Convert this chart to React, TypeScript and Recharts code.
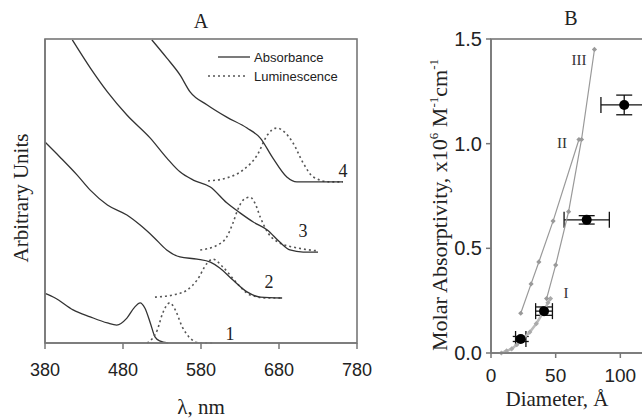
import React from 'react';
import { ComposedChart, Line, Scatter, ErrorBar, XAxis, YAxis } from 'recharts';

// Panel A - spectra (wavelength in nm, arbitrary units)
const wavelengthTicks = [380, 480, 580, 680, 780];

const abs1Nm = [380, 393, 416, 438, 460, 472, 485, 495, 502, 508, 515, 521, 527, 538];
const abs1Val = [16.3, 14.8, 10.9, 8.6, 6.6, 5.9, 8.2, 11.8, 13.2, 11.5, 6.6, 2.0, 0.7, 0];
const lum1Nm = [511, 524, 531, 540, 547, 556, 566, 579, 595];
const lum1Val = [0, 4.3, 9.9, 13.2, 10.9, 5.3, 1.6, 0, 0];

const abs2Nm = [380, 399, 421, 438, 460, 485, 502, 519, 536, 553, 575, 592, 604, 621, 639, 656, 684];
const abs2Val = [66.1, 61.2, 55.3, 50.3, 45.4, 42.1, 38.8, 34.9, 30.6, 28.3, 27.6, 26.6, 24.7, 20.7, 16.8, 15.1, 14.8];
const lum2Nm = [521, 544, 562, 575, 588, 595, 608, 626, 643, 665, 684];
const lum2Val = [15.1, 15.8, 17.4, 20.7, 26.3, 27.6, 25.0, 19.7, 15.8, 14.8, 14.8];

const abs3Nm = [415, 438, 460, 485, 515, 536, 553, 570, 592, 613, 630, 647, 665, 681, 694, 711, 730];
const abs3Val = [99.7, 90.5, 82.6, 75.0, 67.4, 60.9, 56.3, 53.6, 51.3, 46.1, 42.8, 39.8, 37.2, 33.2, 30.6, 29.9, 29.9];
const lum3Nm = [579, 601, 613, 621, 627, 634, 643, 649, 656, 666, 681, 703, 730];
const lum3Val = [30.6, 32.2, 34.9, 39.5, 43.8, 47.0, 48.0, 46.1, 41.4, 36.2, 32.9, 31.3, 30.3];

const abs4Nm = [517, 536, 553, 566, 588, 613, 639, 656, 672, 690, 703, 762];
const abs4Val = [99.7, 93.8, 88.2, 82.6, 78.3, 74.3, 70.7, 67.4, 60.9, 54.6, 53.0, 53.0];
const lum4Nm = [589, 613, 634, 652, 665, 677, 698, 711, 724, 745, 762];
const lum4Val = [53.3, 54.3, 56.9, 61.8, 68.4, 70.7, 65.8, 59.2, 54.6, 53.0, 53.0];

// Panel B - molar absorptivity vs diameter
const diameterTicks = [0, 50, 100];
const absorptivityTicks = [0, 0.5, 1.0, 1.5];

const curveIDiam = [8, 12, 16, 20, 25, 30, 35, 40, 44, 46];
const curveIVal = [0, 0.01, 0.02, 0.04, 0.07, 0.1, 0.14, 0.19, 0.24, 0.26];
const curveIIDiam = [23, 31, 37, 48, 68];
const curveIIVal = [0.19, 0.33, 0.435, 0.63, 1.02];
const curveIIIDiam = [43, 50, 60, 70, 80];
const curveIIIVal = [0.26, 0.42, 0.675, 1.02, 1.45];

const expDiam = [23, 41, 74, 103];
const expVal = [0.067, 0.2, 0.636, 1.185];
const expDiamErr = [4, 6.5, 17.5, 18];
const expValErr = [0.012, 0.02, 0.02, 0.047];

const zip = (xs: number[], ys: number[]) => xs.map((x, i) => ({ x, y: ys[i] }));

const sans = 'Liberation Sans, Arial, sans-serif';
const serif = 'Liberation Serif, Times New Roman, serif';
const axisGray = '#777';

const solid = { stroke: '#333', strokeWidth: 1.3 };
const dotted = { stroke: '#555', strokeWidth: 1.6, strokeDasharray: '2 3' };

const Diamond = (p: any) => (
  <path d={`M${p.cx},${p.cy - 2.6}L${p.cx + 2.6},${p.cy}L${p.cx},${p.cy + 2.6}L${p.cx - 2.6},${p.cy}Z`} fill={p.color} />
);

const BigDot = (p: any) => <circle cx={p.cx} cy={p.cy} r={5} fill="#000" />;

const yLabelA = (props: any) => {
  const vb = props.viewBox;
  const x = vb.x + 28;
  const y = vb.y + vb.height / 2 + 7;
  return (
    <text x={x} y={y} transform={`rotate(-90 ${x} ${y})`} textAnchor="middle" fontFamily={serif} fontSize={21} fill="#222">
      Arbitrary Units
    </text>
  );
};

const yLabelB = (props: any) => {
  const vb = props.viewBox;
  const x = vb.x + 27;
  const y = vb.y + vb.height / 2 + 9;
  return (
    <text x={x} y={y} transform={`rotate(-90 ${x} ${y})`} textAnchor="middle" fontFamily={serif} fontSize={22} fill="#222">
      Molar Absorptivity, x10<tspan dy={-9} fontSize={13}>6</tspan>
      <tspan dy={9}> M</tspan>
      <tspan dy={-9} fontSize={13}>-1</tspan>
      <tspan dy={9}>cm</tspan>
      <tspan dy={-9} fontSize={13}>-1</tspan>
    </text>
  );
};

function App() {
  return (
    <div style={{ position: 'absolute', left: 0, top: 0, width: 642, height: 420, overflow: 'hidden', background: '#fff' }}>
      <div style={{ position: 'absolute', left: 0, top: 0 }}>
        <ComposedChart width={380} height={420} margin={{ top: 39, right: 23, bottom: 0, left: 0 }}>
          <XAxis
            type="number"
            dataKey="x"
            domain={[380, 780]}
            ticks={wavelengthTicks}
            height={77}
            tickSize={6}
            tickMargin={14}
            stroke={axisGray}
            strokeWidth={1.5}
            tick={{ fill: '#222', fontSize: 18, fontFamily: sans }}
            label={{ value: 'λ, nm', position: 'insideBottom', offset: 6, fontFamily: serif, fontSize: 21, fill: '#222' }}
          />
          <YAxis
            type="number"
            dataKey="y"
            domain={[0, 100]}
            width={45}
            tick={false}
            tickLine={false}
            stroke={axisGray}
            strokeWidth={1.5}
            label={{ content: yLabelA }}
          />
          <Line data={zip(abs1Nm, abs1Val)} dataKey="y" type="monotone" dot={false} {...solid} isAnimationActive={false} />
          <Line data={zip(lum1Nm, lum1Val)} dataKey="y" type="monotone" dot={false} {...dotted} isAnimationActive={false} />
          <Line data={zip(lum2Nm, lum2Val)} dataKey="y" type="monotone" dot={false} {...dotted} isAnimationActive={false} />
          <Line data={zip(abs2Nm, abs2Val)} dataKey="y" type="monotone" dot={false} {...solid} isAnimationActive={false} />
          <Line data={zip(lum3Nm, lum3Val)} dataKey="y" type="monotone" dot={false} {...dotted} isAnimationActive={false} />
          <Line data={zip(abs3Nm, abs3Val)} dataKey="y" type="monotone" dot={false} {...solid} isAnimationActive={false} />
          <Line data={zip(lum4Nm, lum4Val)} dataKey="y" type="monotone" dot={false} {...dotted} isAnimationActive={false} />
          <Line data={zip(abs4Nm, abs4Val)} dataKey="y" type="monotone" dot={false} {...solid} isAnimationActive={false} />
        </ComposedChart>
      </div>

      <div style={{ position: 'absolute', left: 420, top: 0 }}>
        <ComposedChart width={280} height={420} margin={{ top: 39, right: 15, bottom: 0, left: 0 }}>
          <XAxis
            type="number"
            dataKey="x"
            domain={[0, 150]}
            ticks={diameterTicks}
            height={67}
            tickSize={5}
            tickMargin={11}
            stroke={axisGray}
            strokeWidth={1.5}
            tick={{ fill: '#222', fontSize: 19, fontFamily: sans }}
          />
          <YAxis
            type="number"
            dataKey="y"
            domain={[0, 1.5]}
            ticks={absorptivityTicks}
            width={71}
            tickSize={5}
            tickMargin={4}
            stroke={axisGray}
            strokeWidth={1.5}
            tickFormatter={(v: number) => v.toFixed(1)}
            tick={{ fill: '#222', fontSize: 20, fontFamily: sans }}
            label={{ content: yLabelB }}
          />
          <Scatter
            data={zip(curveIDiam, curveIVal)}
            line={{ stroke: '#bbb', strokeWidth: 2.5 }}
            lineType="joint"
            shape={(p: any) => <Diamond {...p} color="#aaa" />}
            isAnimationActive={false}
          />
          <Scatter
            data={zip(curveIIDiam, curveIIVal)}
            line={{ stroke: '#999', strokeWidth: 1.2 }}
            lineType="joint"
            shape={(p: any) => <Diamond {...p} color="#999" />}
            isAnimationActive={false}
          />
          <Scatter
            data={zip(curveIIIDiam, curveIIIVal)}
            line={{ stroke: '#999', strokeWidth: 1.2 }}
            lineType="joint"
            shape={(p: any) => <Diamond {...p} color="#999" />}
            isAnimationActive={false}
          />
          <Scatter
            data={expDiam.map((x, i) => ({ x, y: expVal[i], ex: expDiamErr[i], ey: expValErr[i] }))}
            shape={BigDot}
            fill="#000"
            isAnimationActive={false}
          >
            <ErrorBar dataKey="ex" direction="x" width={8} stroke="#111" strokeWidth={1.3} />
            <ErrorBar dataKey="ey" direction="y" width={8} stroke="#111" strokeWidth={1.3} />
          </Scatter>
        </ComposedChart>
      </div>

      <svg width={642} height={420} style={{ position: 'absolute', left: 0, top: 0, pointerEvents: 'none' }}>
        {/* plot frames */}
        <rect x={45} y={39} width={312} height={304} fill="none" stroke={axisGray} strokeWidth={1.6} />
        <rect x={491} y={39} width={200} height={314} fill="none" stroke={axisGray} strokeWidth={1.6} />

        <text x={201} y={28} textAnchor="middle" fontFamily={serif} fontSize={20} fill="#222">A</text>
        <text x={571} y={25} textAnchor="middle" fontFamily={serif} fontSize={20} fill="#222">B</text>
        <text x={557} y={406} textAnchor="middle" fontFamily={serif} fontSize={21} fill="#222">Diameter, Å</text>

        <line x1={218} y1={57} x2={250} y2={57} {...solid} />
        <text x={254} y={61.5} fontFamily={sans} fontSize={13} fill="#222">Absorbance</text>
        <line x1={208} y1={76} x2={248} y2={76} {...dotted} />
        <text x={254} y={80.5} fontFamily={sans} fontSize={13} fill="#222">Luminescence</text>

        <text x={230} y={340} textAnchor="middle" fontFamily={serif} fontSize={18} fill="#222">1</text>
        <text x={269} y={288} textAnchor="middle" fontFamily={serif} fontSize={18} fill="#222">2</text>
        <text x={303} y={237} textAnchor="middle" fontFamily={serif} fontSize={18} fill="#222">3</text>
        <text x={343} y={177} textAnchor="middle" fontFamily={serif} fontSize={18} fill="#222">4</text>

        <text x={579} y={65} textAnchor="middle" fontFamily={serif} fontSize={15} fill="#333">III</text>
        <text x={562} y={148} textAnchor="middle" fontFamily={serif} fontSize={15} fill="#333">II</text>
        <text x={566} y={298} textAnchor="middle" fontFamily={serif} fontSize={15} fill="#333">I</text>
      </svg>
    </div>
  );
}

export default App;
